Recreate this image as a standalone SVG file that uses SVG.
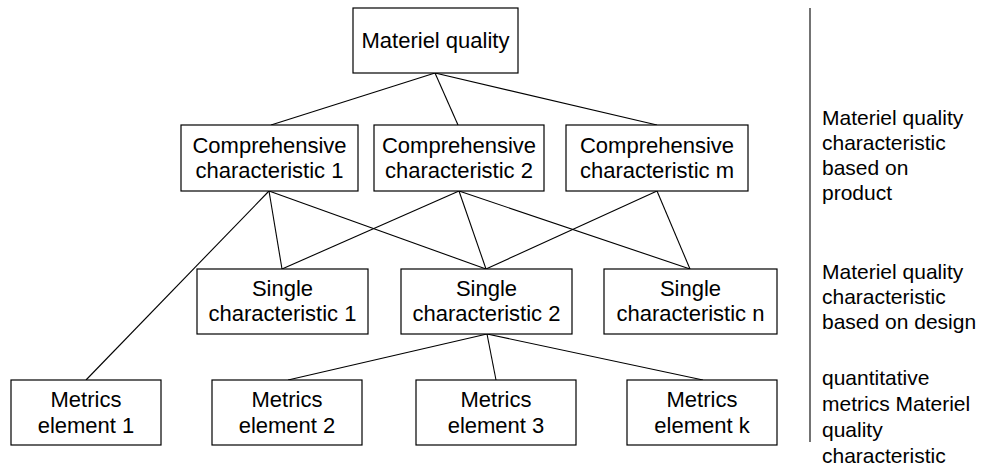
<svg xmlns="http://www.w3.org/2000/svg" width="998" height="468" viewBox="0 0 998 468">
<style>
.box{fill:#fff;stroke:#000;stroke-width:1.2}
.t{font-family:"Liberation Sans",Arial,sans-serif;font-size:22px;fill:#000;text-anchor:middle}
.r{font-family:"Liberation Sans",Arial,sans-serif;font-size:21px;fill:#000}
.c{stroke:#000;stroke-width:1.1;fill:none}
</style>
<rect width="998" height="468" fill="#fff"/>
<g id="connectors">
<line class="c" x1="435" y1="73" x2="271" y2="125"/>
<line class="c" x1="435" y1="73" x2="458" y2="125"/>
<line class="c" x1="435" y1="73" x2="657" y2="125"/>
<line class="c" x1="269" y1="191" x2="282" y2="269"/>
<line class="c" x1="269" y1="191" x2="486" y2="269"/>
<line class="c" x1="269" y1="191" x2="86" y2="380"/>
<line class="c" x1="459" y1="191" x2="282" y2="269"/>
<line class="c" x1="459" y1="191" x2="486" y2="269"/>
<line class="c" x1="459" y1="191" x2="690" y2="269"/>
<line class="c" x1="657" y1="191" x2="486" y2="269"/>
<line class="c" x1="657" y1="191" x2="690" y2="269"/>
<line class="c" x1="487" y1="334" x2="288" y2="380"/>
<line class="c" x1="487" y1="334" x2="496" y2="380"/>
<line class="c" x1="487" y1="334" x2="703" y2="380"/>
<line class="c" x1="810" y1="8" x2="810" y2="442"/>
</g>
<g id="n-top"><rect class="box" x="353" y="8" width="165" height="65"/><text class="t" x="435.5" y="48">Materiel quality</text></g>
<g id="n-comp1"><rect class="box" x="181" y="125" width="177" height="66"/><text class="t" x="269.5" y="153">Comprehensive</text><text class="t" x="269.5" y="178">characteristic 1</text></g>
<g id="n-comp2"><rect class="box" x="374" y="125" width="170" height="66"/><text class="t" x="459" y="153">Comprehensive</text><text class="t" x="459" y="178">characteristic 2</text></g>
<g id="n-compm"><rect class="box" x="566" y="125" width="182" height="66"/><text class="t" x="657" y="153">Comprehensive</text><text class="t" x="657" y="178">characteristic m</text></g>
<g id="n-single1"><rect class="box" x="197" y="269" width="171" height="65"/><text class="t" x="282.5" y="296">Single</text><text class="t" x="282.5" y="321">characteristic 1</text></g>
<g id="n-single2"><rect class="box" x="401" y="269" width="171" height="65"/><text class="t" x="486.5" y="296">Single</text><text class="t" x="486.5" y="321">characteristic 2</text></g>
<g id="n-singlen"><rect class="box" x="604" y="269" width="173" height="65"/><text class="t" x="690.5" y="296">Single</text><text class="t" x="690.5" y="321">characteristic n</text></g>
<g id="n-m1"><rect class="box" x="11" y="380" width="150" height="65"/><text class="t" x="86" y="407">Metrics</text><text class="t" x="86" y="433">element 1</text></g>
<g id="n-m2"><rect class="box" x="212" y="380" width="150" height="65"/><text class="t" x="287" y="407">Metrics</text><text class="t" x="287" y="433">element 2</text></g>
<g id="n-m3"><rect class="box" x="416" y="380" width="160" height="65"/><text class="t" x="496" y="407">Metrics</text><text class="t" x="496" y="433">element 3</text></g>
<g id="n-mk"><rect class="box" x="627" y="380" width="150" height="65"/><text class="t" x="702" y="407">Metrics</text><text class="t" x="702" y="433">element k</text></g>
<g id="labels">
<text class="r" x="822" y="125">Materiel quality</text>
<text class="r" x="822" y="150">characteristic</text>
<text class="r" x="822" y="175">based on</text>
<text class="r" x="822" y="200">product</text>
<text class="r" x="822" y="279">Materiel quality</text>
<text class="r" x="822" y="304">characteristic</text>
<text class="r" x="822" y="329">based on design</text>
<text class="r" x="822" y="385">quantitative</text>
<text class="r" x="822" y="411">metrics Materiel</text>
<text class="r" x="822" y="437">quality</text>
<text class="r" x="822" y="463">characteristic</text>
</g>
</svg>
